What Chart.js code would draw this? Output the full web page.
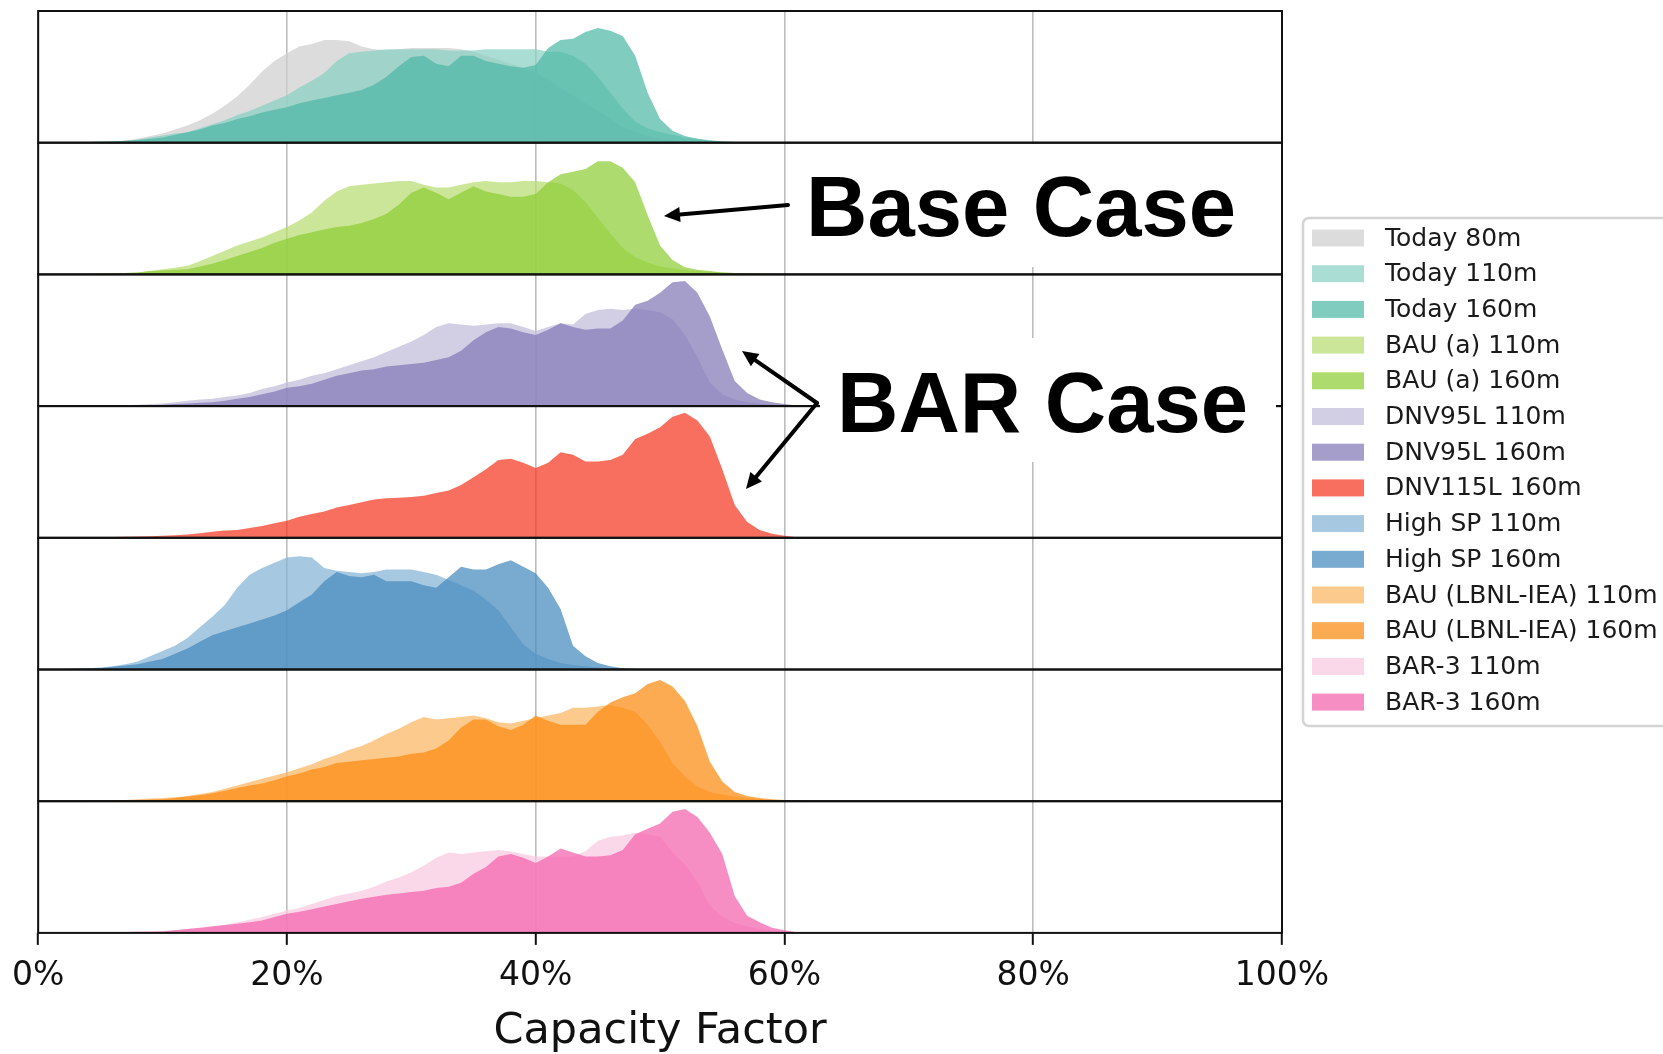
<!DOCTYPE html>
<html>
<head>
<meta charset="utf-8">
<title>Capacity Factor distributions</title>
<script src="https://cdn.jsdelivr.net/npm/chart.js@4.4.1/dist/chart.umd.min.js"></script>
<style>
  html, body { margin: 0; padding: 0; background: #fff; }
  #wrap { position: relative; width: 1663px; height: 1054px; }
</style>
</head>
<body>
<div id="wrap"><canvas id="cfChart" width="1663" height="1054"></canvas></div>
<script>
// capacity factor (%) of each histogram bin
const cfBins = [2,3,4,5,6,7,8,9,10,11,
  12,13,14,15,16,17,18,19,20,21,
  22,23,24,25,26,27,28,29,30,31,
  32,33,34,35,36,37,38,39,40,41,
  42,43,44,45,46,47,48,49,50,51,
  52,53,54,55,56,57,58,59,60,61,
  62];
const xTicks = [0, 20, 40, 60, 80, 100];

// relative frequency (share of panel height)
const today80 = [0,0,0.3,0.5,1,1.5,3,5,7,10,
  13,17,22,28,35,44,54,62,68,73,
  75,78,78,77,73,71,70,71,72,72,
  72,72,71,69,66,63,60,57,53,48,
  42,36,30,24,18,12,8,5,3,2,
  1,0.5,0,0,0,0,0,0,0,0,
  0];
const today110 = [0,0,0.2,0.5,1,1.5,2.5,4,5.5,7,
  8,11,14,17,21,24,28,32,36,42,
  47,53,62,68,69,70,71,71,71,71,
  71,70,70,70,71,71,71,71,71,69,
  69,66,60,50,38,26,16,11,8,6,
  4,3,2,1,0.5,0,0,0,0,0,
  0];
const today160 = [0,0.3,0.5,1,1,1.5,2,3,4,6,
  8,10,13,15,18,20,23,25,27,30,
  32,34,36,38,40,44,50,58,65,66,
  60,58,66,66,62,60,58,57,59,72,
  78,79,84,87,85,81,66,38,18,9,
  5,3,1.5,1,0.5,0,0,0,0,0,
  0];
const bauA110 = [0,0,0.3,0.5,0.8,1,1.5,2.5,4,5,
  6.5,10,14,18,22,25,28,32,36,41,
  47,56,63,67,68,69,70,71,71,68,
  66,66,68,70,71,70,70,71,71,70,
  69,64,55,43,31,20,13,9,6,4.5,
  3.5,2.5,2,1.5,1,0.7,0.5,0.3,0,0,
  0];
const bauA160 = [0,0.3,0.5,0.7,0.8,1,1.5,2.5,3,3.5,
  4,6,8,11,14,17,20,24,27,30,
  32,34,36,37,39,42,46,53,62,66,
  62,57,62,67,63,61,59,59,61,70,
  76,78,80,86,86,81,70,45,22,11,
  5.5,3.5,2.5,1.5,1,0.8,0.6,0.5,0.3,0,
  0];
const dnv95L110 = [0,0,0.2,0.3,0.5,0.7,1,1.5,2,3,
  4,5,5.5,7,8,10,13,15,18,20,
  23,25,28,31,34,37,41,45,49,54,
  60,63,62,61,62,63,63,60,57,60,
  63,62,70,73,74,73,74,73,71,66,
  54,37,18,9,5,3,2,1,0.5,0,
  0];
const dnv95L160 = [0,0,0,0.2,0.3,0.4,0.5,0.7,1,1.5,
  2,2.5,3,4,5.5,7,9,11,14,15,
  17,20,23,25,27,28,30,31,32,33,
  35,37,42,50,56,60,59,56,54,58,
  63,60,58,59,59,65,77,80,86,94,
  95,86,68,43,19,10,5,3,1.5,0.5,
  0];
const dnv115L160 = [0,0,0,0.5,0.7,0.8,1,1.2,1.5,2,
  2.5,3.5,4.5,5.5,6,7.5,9,11,13,16,
  18,20,23,25,27,29,30,30.5,31,32,
  34,36,40,46,52,59,60,57,53,57,
  65,63,58,58,59,63,75,79,84,92,
  95,89,77,52,25,12,6,3,1.5,0.5,
  0];
const highSP110 = [0.3,0.5,1,1.5,2.5,4,6,10,14,18,
  24,32,40,49,62,72,77,81,85,86,
  85,77,75,74,73,74,76,76,76,74,
  72,68,64,60,53,45,32,19,12,8,
  5,3.5,2.5,1.5,1,0.5,0,0,0,0,
  0,0,0,0,0,0,0,0,0,0,
  0];
const highSP160 = [0.3,0.5,0.8,1,2,3,4,6,8,12,
  16,21,26,29,32,35,38,41,45,51,
  57,67,74,71,70,72,67,67,67,64,
  62,70,78,76,76,80,83,78,73,62,
  46,18,10,5,2.5,1,0.5,0,0,0,
  0,0,0,0,0,0,0,0,0,0,
  0];
const lbnl110 = [0,0,0.3,0.5,0.8,1,1.5,2,2.5,3,
  4,5.5,7,9.5,12,14.5,17,19.5,22,25,
  28,32,35,39,42,46,51,55,60,64,
  62,63,64,65,63,60,59,61,63,65,
  67,71,71,72,73,71,68,58,45,29,
  19,11,7,5,3.5,2.5,1.5,1,0.5,0,
  0];
const lbnl160 = [0,0,0.3,0.5,0.6,0.8,1,1.2,1.5,2.5,
  3.5,4.5,6,8,10,12,13.5,16,19,21,
  24,26,29,30,31,32,33,34,36,37,
  40,46,56,62,62,57,54,58,65,61,
  58,58,58,68,75,79,82,89,92,87,
  76,57,30,15,7,4,2.5,1.5,1,0.5,
  0];
const bar3110 = [0,0,0,0.5,0.6,0.7,0.8,1,1.5,2,
  3,3.5,4.5,6,8,10,12,14.5,17,19,
  22,25,28,30,32,35,39,42,46,51,
  57,61,60,61,62,63,62,60,58,58,
  58,58,62,70,73,74,76,75,73,61,
  52,39,21,12,7.5,5,3,2,1,0,
  0];
const bar3160 = [0,0,0,0.5,0.6,0.7,0.8,0.9,1,2,
  3,4,5,6,7,8,9.5,12,14.5,16,
  18,20,22,24,26,27.5,29,30,31,32,
  34,35,38,45,50,58,60,57,53,58,
  64,61,58,58,59,63,75,79,83,92,
  94,88,76,60,28,13,8,4,2,0.5,
  0];

const seriesLabels = ['Today 80m', 'Today 110m', 'Today 160m', 'BAU (a) 110m', 'BAU (a) 160m',
  'DNV95L 110m', 'DNV95L 160m', 'DNV115L 160m', 'High SP 110m', 'High SP 160m',
  'BAU (LBNL-IEA) 110m', 'BAU (LBNL-IEA) 160m', 'BAR-3 110m', 'BAR-3 160m'];
const seriesValues = [today80, today110, today160, bauA110, bauA160, dnv95L110, dnv95L160,
  dnv115L160, highSP110, highSP160, lbnl110, lbnl160, bar3110, bar3160];
const seriesPanel = [0, 0, 0, 1, 1, 2, 2, 3, 4, 4, 5, 5, 6, 6];

const seriesColors = [
  'rgba(206,206,206,0.72)', 'rgba(137,208,195,0.72)', 'rgba(79,184,166,0.72)',
  'rgba(183,220,113,0.72)', 'rgba(141,205,52,0.72)',
  'rgba(192,188,219,0.72)', 'rgba(130,120,183,0.72)', 'rgba(245,56,33,0.72)',
  'rgba(133,179,213,0.72)', 'rgba(69,137,188,0.72)',
  'rgba(252,181,99,0.72)', 'rgba(252,138,15,0.72)',
  'rgba(249,201,224,0.72)', 'rgba(244,99,172,0.72)'
];

const panelIds = ['y0', 'y1', 'y2', 'y3', 'y4', 'y5', 'y6'];

const datasets = seriesValues.map((vals, i) => ({
  label: seriesLabels[i],
  data: cfBins.map((x, j) => ({ x: x, y: vals[j] })),
  yAxisID: panelIds[seriesPanel[i]],
  backgroundColor: seriesColors[i],
  borderColor: 'rgba(0,0,0,0)',
  borderWidth: 0,
  pointRadius: 0,
  fill: 'origin',
  tension: 0,
  order: -i
}));

const scales = {
  x: {
    type: 'linear',
    position: 'bottom',
    min: 0,
    max: 100,
    afterBuildTicks: s => { s.ticks = xTicks.map(v => ({ value: v })); },
    ticks: {
      callback: v => v + '%',
      font: { family: 'DejaVu Sans', size: 33 },
      color: '#111',
      padding: 12,
      maxRotation: 0
    },
    grid: {
      color: '#bdbdbd',
      lineWidth: 1.6,
      tickLength: 12,
      tickColor: '#111',
      tickWidth: 2
    },
    border: { display: false },
    title: {
      display: true,
      text: 'Capacity Factor',
      font: { family: 'DejaVu Sans', size: 43, lineHeight: 1 },
      color: '#111',
      padding: { top: 2, bottom: 0 }
    }
  }
};
panelIds.forEach((id, k) => {
  scales[id] = {
    type: 'linear',
    position: 'left',
    stack: 'panels',
    stackWeight: 1,
    weight: panelIds.length - k,
    min: 0,
    max: 100,
    offset: false,
    ticks: { display: false },
    grid: { display: false, drawTicks: false },
    border: { display: false }
  };
});

// black frame round every panel
const panelFrames = {
  id: 'panelFrames',
  afterDatasetsDraw(chart) {
    const { ctx, chartArea } = chart;
    ctx.save();
    ctx.strokeStyle = '#111';
    ctx.lineWidth = 2;
    panelIds.forEach(id => {
      const s = chart.scales[id];
      ctx.strokeRect(chartArea.left, s.top, chartArea.right - chartArea.left, s.bottom - s.top);
    });
    ctx.restore();
  }
};

function drawArrow(ctx, x1, y1, x2, y2) {
  const ang = Math.atan2(y2 - y1, x2 - x1);
  const hl = 16, hw = 7.5;
  const bx = x2 - hl * Math.cos(ang), by = y2 - hl * Math.sin(ang);
  ctx.beginPath();
  ctx.moveTo(x1, y1);
  ctx.lineTo(bx, by);
  ctx.stroke();
  ctx.beginPath();
  ctx.moveTo(x2, y2);
  ctx.lineTo(bx + hw * Math.sin(ang), by - hw * Math.cos(ang));
  ctx.lineTo(bx - hw * Math.sin(ang), by + hw * Math.cos(ang));
  ctx.closePath();
  ctx.fill();
}

// "Base Case" / "BAR Case" call-outs and the legend box on the right
const callouts = {
  id: 'callouts',
  afterDraw(chart) {
    const ctx = chart.ctx;
    ctx.save();
    ctx.fillStyle = '#fff';
    ctx.fillRect(800, 144, 477, 123);
    ctx.fillRect(820, 338, 456, 124);

    ctx.fillStyle = '#000';
    ctx.font = 'bold 85px "Liberation Sans", Arial, sans-serif';
    ctx.textBaseline = 'alphabetic';
    ctx.textAlign = 'left';
    ctx.fillText('Base Case', 806, 236);
    ctx.fillText('BAR Case', 837, 432);

    ctx.strokeStyle = '#000';
    ctx.lineWidth = 4;
    ctx.lineCap = 'round';
    drawArrow(ctx, 788, 205, 664, 216);
    drawArrow(ctx, 817, 403, 742, 351);
    drawArrow(ctx, 817, 403, 746, 489);

    // legend
    const lx = chart.chartArea.right + 21, ly = 218, lh = 508;
    ctx.beginPath();
    ctx.roundRect(lx, ly, 420, lh, 6);
    ctx.fillStyle = 'rgba(255,255,255,0.85)';
    ctx.fill();
    ctx.strokeStyle = '#d4d4d4';
    ctx.lineWidth = 2.5;
    ctx.stroke();
    ctx.font = '25px "DejaVu Sans"';
    ctx.textBaseline = 'middle';
    chart.data.datasets.forEach((ds, i) => {
      const cy = 238 + i * 35.7;
      ctx.fillStyle = ds.backgroundColor;
      ctx.fillRect(lx + 9, cy - 8.5, 52, 17);
      ctx.fillStyle = '#1a1a1a';
      ctx.fillText(ds.label, lx + 82, cy + 1);
    });
    ctx.restore();
  }
};

new Chart(document.getElementById('cfChart'), {
  type: 'line',
  data: { datasets: datasets },
  options: {
    responsive: false,
    animation: false,
    layout: { padding: { left: 38, right: 381, top: 11, bottom: 0.5 } },
    scales: scales,
    plugins: {
      legend: { display: false },
      tooltip: { enabled: false }
    }
  },
  plugins: [panelFrames, callouts]
});
</script>
</body>
</html>
